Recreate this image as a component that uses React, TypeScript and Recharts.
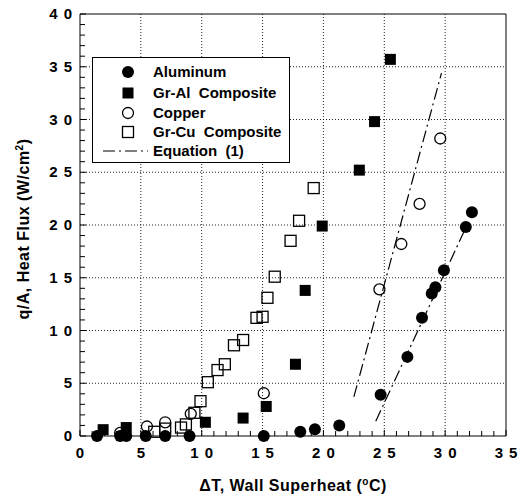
import React from 'react';
import { ScatterChart, Scatter, XAxis, YAxis, CartesianGrid, ReferenceLine, Legend, Label } from 'recharts';

const xTicks = [0, 1, 2, 3, 4, 5, 6, 7, 8, 9, 10, 11, 12, 13, 14, 15, 16, 17, 18, 19, 20, 21, 22, 23, 24, 25, 26, 27, 28, 29, 30, 31, 32, 33, 34, 35];
const yTicks = [0, 1, 2, 3, 4, 5, 6, 7, 8, 9, 10, 11, 12, 13, 14, 15, 16, 17, 18, 19, 20, 21, 22, 23, 24, 25, 26, 27, 28, 29, 30, 31, 32, 33, 34, 35, 36, 37, 38, 39, 40];
const xGrid = [5, 10, 15, 20, 25, 30];
const yGrid = [5, 10, 15, 20, 25, 30, 35];

const aluminum = [
  { x: 1.4, y: 0 }, { x: 3.3, y: 0 }, { x: 3.8, y: 0 }, { x: 5.4, y: 0 }, { x: 7.0, y: 0 },
  { x: 9.0, y: 0 }, { x: 15.1, y: 0 }, { x: 18.1, y: 0.4 }, { x: 19.3, y: 0.65 }, { x: 21.3, y: 1.0 },
  { x: 24.7, y: 3.9 }, { x: 26.9, y: 7.5 }, { x: 28.1, y: 11.2 }, { x: 28.9, y: 13.5 }, { x: 29.2, y: 14.1 },
  { x: 29.9, y: 15.7 }, { x: 31.7, y: 19.8 }, { x: 32.2, y: 21.2 },
];
const grAl = [
  { x: 1.9, y: 0.6 }, { x: 3.8, y: 0.8 }, { x: 10.3, y: 1.3 }, { x: 13.4, y: 1.7 }, { x: 15.3, y: 2.8 },
  { x: 17.7, y: 6.8 }, { x: 18.5, y: 13.8 }, { x: 19.9, y: 19.9 }, { x: 22.95, y: 25.2 }, { x: 24.2, y: 29.8 },
  { x: 25.5, y: 35.7 },
];
const copper = [
  { x: 3.3, y: 0.3 }, { x: 5.5, y: 0.9 }, { x: 7.0, y: 1.3 }, { x: 9.1, y: 2.1 }, { x: 15.1, y: 4.05 },
  { x: 24.6, y: 13.9 }, { x: 26.4, y: 18.2 }, { x: 27.9, y: 22.0 }, { x: 29.6, y: 28.2 },
];
const grCu = [
  { x: 6.1, y: 0.4 }, { x: 7.0, y: 0.7 }, { x: 8.3, y: 0.8 }, { x: 8.7, y: 1.1 }, { x: 9.4, y: 2.2 },
  { x: 9.9, y: 3.3 }, { x: 10.5, y: 5.1 }, { x: 11.3, y: 6.25 }, { x: 11.9, y: 6.8 }, { x: 12.65, y: 8.6 },
  { x: 13.4, y: 9.1 }, { x: 14.5, y: 11.2 }, { x: 15.0, y: 11.3 }, { x: 15.4, y: 13.1 }, { x: 16.0, y: 15.1 },
  { x: 17.3, y: 18.5 }, { x: 18.0, y: 20.4 }, { x: 19.2, y: 23.5 },
];
const equationCopper = [{ x: 22.5, y: 3.7 }, { x: 29.7, y: 34.4 }];
const equationAluminum = [{ x: 24.3, y: 1.4 }, { x: 31.8, y: 20.0 }];

const legendNames = ['Aluminum', 'Gr-Al  Composite', 'Copper', 'Gr-Cu  Composite', 'Equation  (1)'];

const FONT = '"Liberation Sans", Arial, sans-serif';
const DASH_DOT = '12 4 2 4';

const FilledCircle = (p: any) => <circle cx={p.cx} cy={p.cy} r={6} fill="#000" />;
const OpenCircle = (p: any) => <circle cx={p.cx} cy={p.cy} r={5.5} fill="none" stroke="#000" strokeWidth={1.3} />;
const FilledSquare = (p: any) => <rect x={p.cx - 5.5} y={p.cy - 5.5} width={11} height={11} fill="#000" />;
const OpenSquare = (p: any) => (
  <rect x={p.cx - 5.5} y={p.cy - 5.5} width={11} height={11} fill="none" stroke="#000" strokeWidth={1.3} />
);

const tickLen = (v: number) => (v % 5 === 0 ? 6 : 5);
const tickText = { fontFamily: FONT, fontSize: 15, fontWeight: 'bold', letterSpacing: 6 } as const;

const BottomTick = ({ x, y, payload }: any) => (
  <g>
    <line x1={x} y1={y} x2={x} y2={y - tickLen(payload.value)} stroke="#000" />
    {payload.value % 5 === 0 && (
      <text x={x + 3} y={y + 22} textAnchor="middle" fill="#000" style={tickText}>{payload.value}</text>
    )}
  </g>
);
const TopTick = ({ x, y, payload }: any) => (
  <line x1={x} y1={y} x2={x} y2={y + tickLen(payload.value)} stroke="#000" />
);
const LeftTick = ({ x, y, payload }: any) => (
  <g>
    <line x1={x} y1={y} x2={x + tickLen(payload.value)} y2={y} stroke="#000" />
    {payload.value % 5 === 0 && (
      <text x={x - 2} y={y + 5} textAnchor="end" fill="#000" style={tickText}>{payload.value}</text>
    )}
  </g>
);
const RightTick = ({ x, y, payload }: any) => (
  <line x1={x} y1={y} x2={x - tickLen(payload.value)} y2={y} stroke="#000" />
);

const legendMarkers = [
  <circle cx={36} cy={15} r={6} fill="#000" />,
  <rect x={30.5} y={30.5} width={11} height={11} fill="#000" />,
  <circle cx={36} cy={56} r={5.5} fill="none" stroke="#000" strokeWidth={1.3} />,
  <rect x={30.5} y={69.5} width={11} height={11} fill="none" stroke="#000" strokeWidth={1.3} />,
  <line x1={11} y1={94} x2={56} y2={94} stroke="#000" strokeWidth={1.2} strokeDasharray={DASH_DOT} />,
];
const legendRows = [15, 36, 56, 75, 94];

const LegendBox = () => (
  <svg width={198} height={106} style={{ display: 'block' }}>
    <rect x={0.5} y={0.5} width={197} height={105} fill="#fff" stroke="#000" />
    {legendMarkers.map((m, i) => <React.Fragment key={i}>{m}</React.Fragment>)}
    {legendNames.map((name, i) => (
      <text key={name} x={61} y={legendRows[i] + 5} fill="#000"
        style={{ fontFamily: FONT, fontSize: 15, fontWeight: 'bold', whiteSpace: 'pre' }}>{name}</text>
    ))}
  </svg>
);

const titleText = { fontFamily: FONT, fontSize: 16, fontWeight: 'bold', letterSpacing: 0.5 } as const;

const XTitle = () => (
  <text x={293} y={491} textAnchor="middle" fill="#000" style={titleText}>
    ΔT, Wall Superheat (<tspan dy={-6} fontSize={10}>o</tspan><tspan dy={6}>C)</tspan>
  </text>
);
const YTitle = () => (
  <text x={0} y={0} textAnchor="middle" fill="#000" transform="translate(29, 229) rotate(-90)" style={titleText}>
    q/A, Heat Flux (W/cm<tspan dy={-6} fontSize={10}>2</tspan><tspan dy={6}>)</tspan>
  </text>
);

export default function App() {
  return (
    <div style={{ position: 'absolute', left: 0, top: 0, width: 524, height: 500, background: '#fff' }}>
      <ScatterChart width={524} height={500} margin={{ top: 13, right: 17, bottom: 63, left: 79 }}>
        <CartesianGrid stroke="#222" strokeDasharray="1 2" verticalValues={xGrid} horizontalValues={yGrid} />
        <XAxis type="number" dataKey="x" domain={[0, 35]} ticks={xTicks} interval={0} height={1}
          tickSize={0} tickMargin={0} tickLine={false} tick={BottomTick} axisLine={{ stroke: '#000' }}>
          <Label content={XTitle} />
        </XAxis>
        <XAxis xAxisId="top" orientation="top" type="number" dataKey="x" domain={[0, 35]} ticks={xTicks} interval={0}
          height={1} tickSize={0} tickMargin={0} tickLine={false} tick={TopTick} axisLine={{ stroke: '#000' }} />
        <YAxis type="number" dataKey="y" domain={[0, 40]} ticks={yTicks} interval={0} width={1}
          tickSize={0} tickMargin={0} tickLine={false} tick={LeftTick} axisLine={{ stroke: '#000' }}>
          <Label content={YTitle} />
        </YAxis>
        <YAxis yAxisId="right" orientation="right" type="number" dataKey="y" domain={[0, 40]} ticks={yTicks} interval={0}
          width={1} tickSize={0} tickMargin={0} tickLine={false} tick={RightTick} axisLine={{ stroke: '#000' }} />
        <ReferenceLine segment={equationCopper} stroke="#000" strokeWidth={1.2} strokeDasharray={DASH_DOT} />
        <ReferenceLine segment={equationAluminum} stroke="#000" strokeWidth={1.2} strokeDasharray={DASH_DOT} />
        <Scatter name="Gr-Cu Composite" data={grCu} shape={OpenSquare} isAnimationActive={false} />
        <Scatter name="Copper" data={copper} shape={OpenCircle} isAnimationActive={false} />
        <Scatter name="Gr-Al Composite" data={grAl} shape={FilledSquare} isAnimationActive={false} />
        <Scatter name="Aluminum" data={aluminum} shape={FilledCircle} isAnimationActive={false} />
        <Legend layout="vertical" align="center" verticalAlign="middle" content={LegendBox}
          wrapperStyle={{ left: 92, top: 57, width: 198, height: 106 }} />
      </ScatterChart>
    </div>
  );
}
